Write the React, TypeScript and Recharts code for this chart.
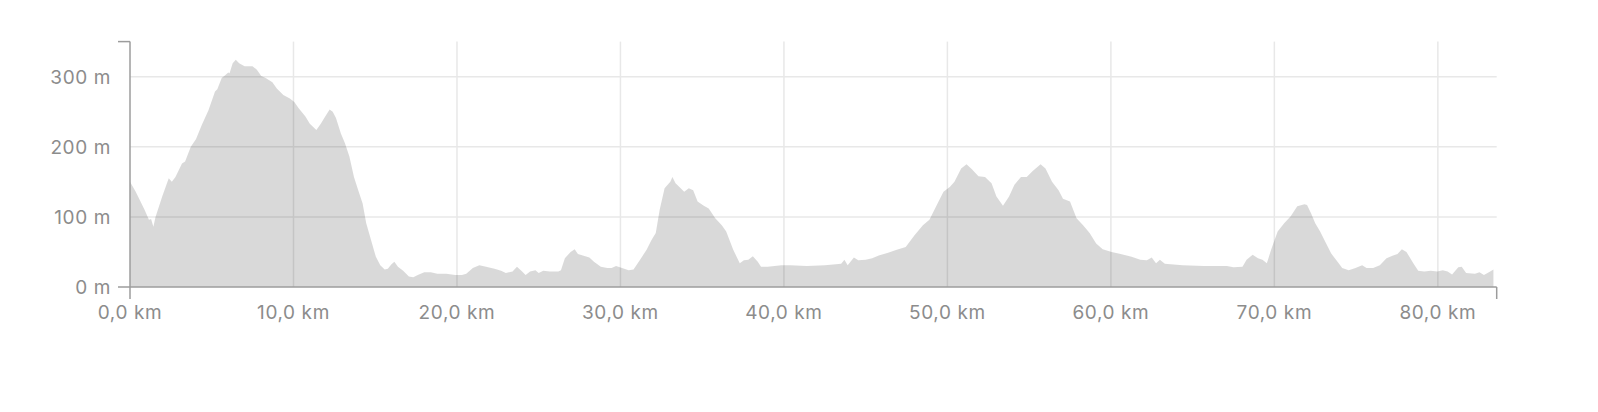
import { AreaChart, Area, XAxis, YAxis, CartesianGrid } from 'recharts'

// route elevation profile
const distanceKm = [
  0, 0.35, 0.89, 1.16, 1.29, 1.43, 1.56, 1.97, 2.37, 2.56, 2.78, 3.18, 3.37, 3.72, 4.04, 4.39, 4.8, 5.2,
  5.34, 5.61, 5.82, 6.01, 6.09, 6.28, 6.47, 6.68, 7.01, 7.49, 7.76, 8.03, 8.3, 8.71, 8.98, 9.38, 9.78,
  10.05, 10.32, 10.73, 11.0, 11.4, 11.67, 11.94, 12.21, 12.4, 12.6, 12.9, 13.15, 13.42, 13.7, 13.96,
  14.23, 14.45, 14.77, 15.04, 15.31, 15.58, 15.77, 15.98, 16.17, 16.39, 16.71, 17.06, 17.33, 17.6, 18.0,
  18.4, 18.8, 19.35, 19.9, 20.3, 20.57, 20.97, 21.37, 21.78, 22.3, 22.7, 22.99, 23.4, 23.67, 23.94, 24.2,
  24.47, 24.8, 25.0, 25.28, 25.69, 26.2, 26.36, 26.6, 26.95, 27.2, 27.4, 27.7, 28.1, 28.38, 28.8, 29.2,
  29.46, 29.73, 30.1, 30.5, 30.8, 31.2, 31.6, 31.9, 32.16, 32.4, 32.7, 33.05, 33.18, 33.37, 33.64, 33.9,
  34.18, 34.45, 34.72, 35.1, 35.4, 35.8, 36.2, 36.47, 36.9, 37.3, 37.55, 37.82, 38.1, 38.4, 38.6, 39.0,
  39.43, 39.84, 40.4, 41.4, 42.5, 43.5, 43.7, 43.9, 44.28, 44.55, 45.0, 45.4, 45.8, 46.37, 46.9, 47.45,
  48.0, 48.5, 48.9, 49.35, 49.76, 50.16, 50.43, 50.84, 51.17, 51.5, 51.9, 52.3, 52.7, 53.0, 53.4, 53.77,
  54.1, 54.5, 54.85, 55.2, 55.7, 56.0, 56.4, 56.8, 57.07, 57.5, 57.9, 58.3, 58.7, 59.1, 59.5, 60.05,
  60.6, 61.27, 61.8, 62.2, 62.5, 62.76, 63.0, 63.3, 64.4, 65.7, 67.1, 67.5, 68.05, 68.3, 68.67, 69.0,
  69.27, 69.54, 69.8, 70.2, 70.6, 71.0, 71.4, 71.84, 72.0, 72.25, 72.5, 72.8, 73.06, 73.47, 73.9, 74.15,
  74.55, 74.96, 75.37, 75.64, 76.04, 76.45, 76.86, 77.26, 77.53, 77.8, 78.08, 78.5, 78.8, 79.17, 79.57,
  79.97, 80.3, 80.6, 80.87, 81.25, 81.46, 81.73, 82.27, 82.55, 82.82, 83.2, 83.4,
]

const elevationM = [
  150, 136, 110, 96, 97, 86, 100, 129, 155, 150, 157, 176, 179, 200, 211, 231, 252, 279,
  282, 298, 302, 306, 305, 319, 324, 319, 315, 315, 310, 301, 298, 292, 283, 274, 269,
  264, 255, 243, 233, 224, 233, 243, 253, 250, 241, 219, 205, 186, 157, 138,
  119, 91, 65, 43, 31, 25, 26, 32, 36, 29, 23, 15, 14, 17, 21,
  21, 19, 19, 17, 17, 19, 27, 31, 29, 26, 23, 20, 22, 29, 23, 17,
  22, 24, 20, 23, 22, 22, 24, 41, 50, 54, 47, 45, 42, 36, 29, 27,
  27, 30, 27, 24, 25, 39, 53, 67, 77, 110, 141, 150, 157, 148, 142, 136,
  141, 138, 122, 116, 112, 98, 88, 79, 53, 34, 38, 39, 44, 36, 29, 29,
  30, 31, 31, 30, 31, 33, 39, 31, 42, 38, 39, 41, 45, 49, 53, 57,
  74, 88, 96, 117, 136, 143, 150, 169, 175, 168, 158, 157, 148, 129, 116, 129,
  146, 157, 157, 165, 175, 169, 150, 138, 126, 122, 98, 88, 77, 62, 54, 50,
  47, 43, 39, 38, 42, 34, 39, 33, 31, 30, 30, 28, 29, 39, 46, 41,
  39, 34, 53, 79, 91, 101, 115, 118, 117, 105, 91, 79, 67, 48, 35, 27,
  24, 27, 31, 27, 27, 31, 41, 45, 47, 54, 50, 34, 23, 22, 23,
  22, 24, 22, 18, 28, 29, 20, 19, 21, 17, 22, 25,
]

const X_END = 83.6
const Y_TOP = 350
const kmTicks = [0, 10, 20, 30, 40, 50, 60, 70, 80, X_END]
const mTicks = [0, 100, 200, 300, Y_TOP]
const gridKm = [10, 20, 30, 40, 50, 60, 70, 80]
const gridM = [100, 200, 300]

const data = distanceKm.map((km, i) => ({ km, elev: elevationM[i] }))

const AXIS_GREY = '#9c9c9c'
const LABEL_GREY = '#8c8c8c'
const FONT = 'Inter, "Helvetica Neue", Arial, sans-serif'

const fmtKm = (v: number) => `${v.toFixed(1).replace('.', ',')} km`

function DistanceTick({ x, y, payload }: any) {
  const v = payload.value
  const isEnd = v === X_END
  return (
    <g>
      {(v === 0 || isEnd) && (
        <line x1={x} x2={x} y1={y} y2={y + 12} stroke={AXIS_GREY} strokeWidth={1.5} />
      )}
      {!isEnd && (
        <text
          x={x}
          y={y + 32}
          textAnchor='middle'
          fill={LABEL_GREY}
          fontSize={19}
          letterSpacing={0.6}
          fontFamily={FONT}
        >
          {fmtKm(v)}
        </text>
      )}
    </g>
  )
}

function ElevationTick({ x, y, payload }: any) {
  const v = payload.value
  const isTop = v === Y_TOP
  return (
    <g>
      {(v === 0 || isTop) && (
        <line x1={x - 12} x2={x} y1={y} y2={y} stroke={AXIS_GREY} strokeWidth={1.5} />
      )}
      {!isTop && (
        <text
          x={x - 19}
          y={y + 7}
          textAnchor='end'
          fill={LABEL_GREY}
          fontSize={19}
          letterSpacing={0.6}
          fontFamily={FONT}
        >
          {`${v} m`}
        </text>
      )}
    </g>
  )
}

export default function App() {
  return (
    <AreaChart
      width={1582}
      height={396}
      data={data}
      margin={{ top: 33.6, right: 93.3, bottom: 77, left: 0 }}
    >
      <CartesianGrid
        stroke='#e8e8e8'
        strokeWidth={1.5}
        horizontalValues={gridM}
        verticalValues={gridKm}
      />
      <Area
        type='linear'
        dataKey='elev'
        fill='#000'
        fillOpacity={0.15}
        stroke='none'
        isAnimationActive={false}
      />
      <XAxis
        dataKey='km'
        type='number'
        domain={[0, X_END]}
        ticks={kmTicks}
        interval={0}
        height={40}
        tickSize={0}
        tickMargin={0}
        tickLine={false}
        axisLine={{ stroke: AXIS_GREY, strokeWidth: 1.5 }}
        tick={<DistanceTick />}
      />
      <YAxis
        type='number'
        domain={[0, Y_TOP]}
        ticks={mTicks}
        interval={0}
        width={122}
        tickSize={0}
        tickMargin={0}
        tickLine={false}
        axisLine={{ stroke: AXIS_GREY, strokeWidth: 1.5 }}
        tick={<ElevationTick />}
      />
    </AreaChart>
  )
}
